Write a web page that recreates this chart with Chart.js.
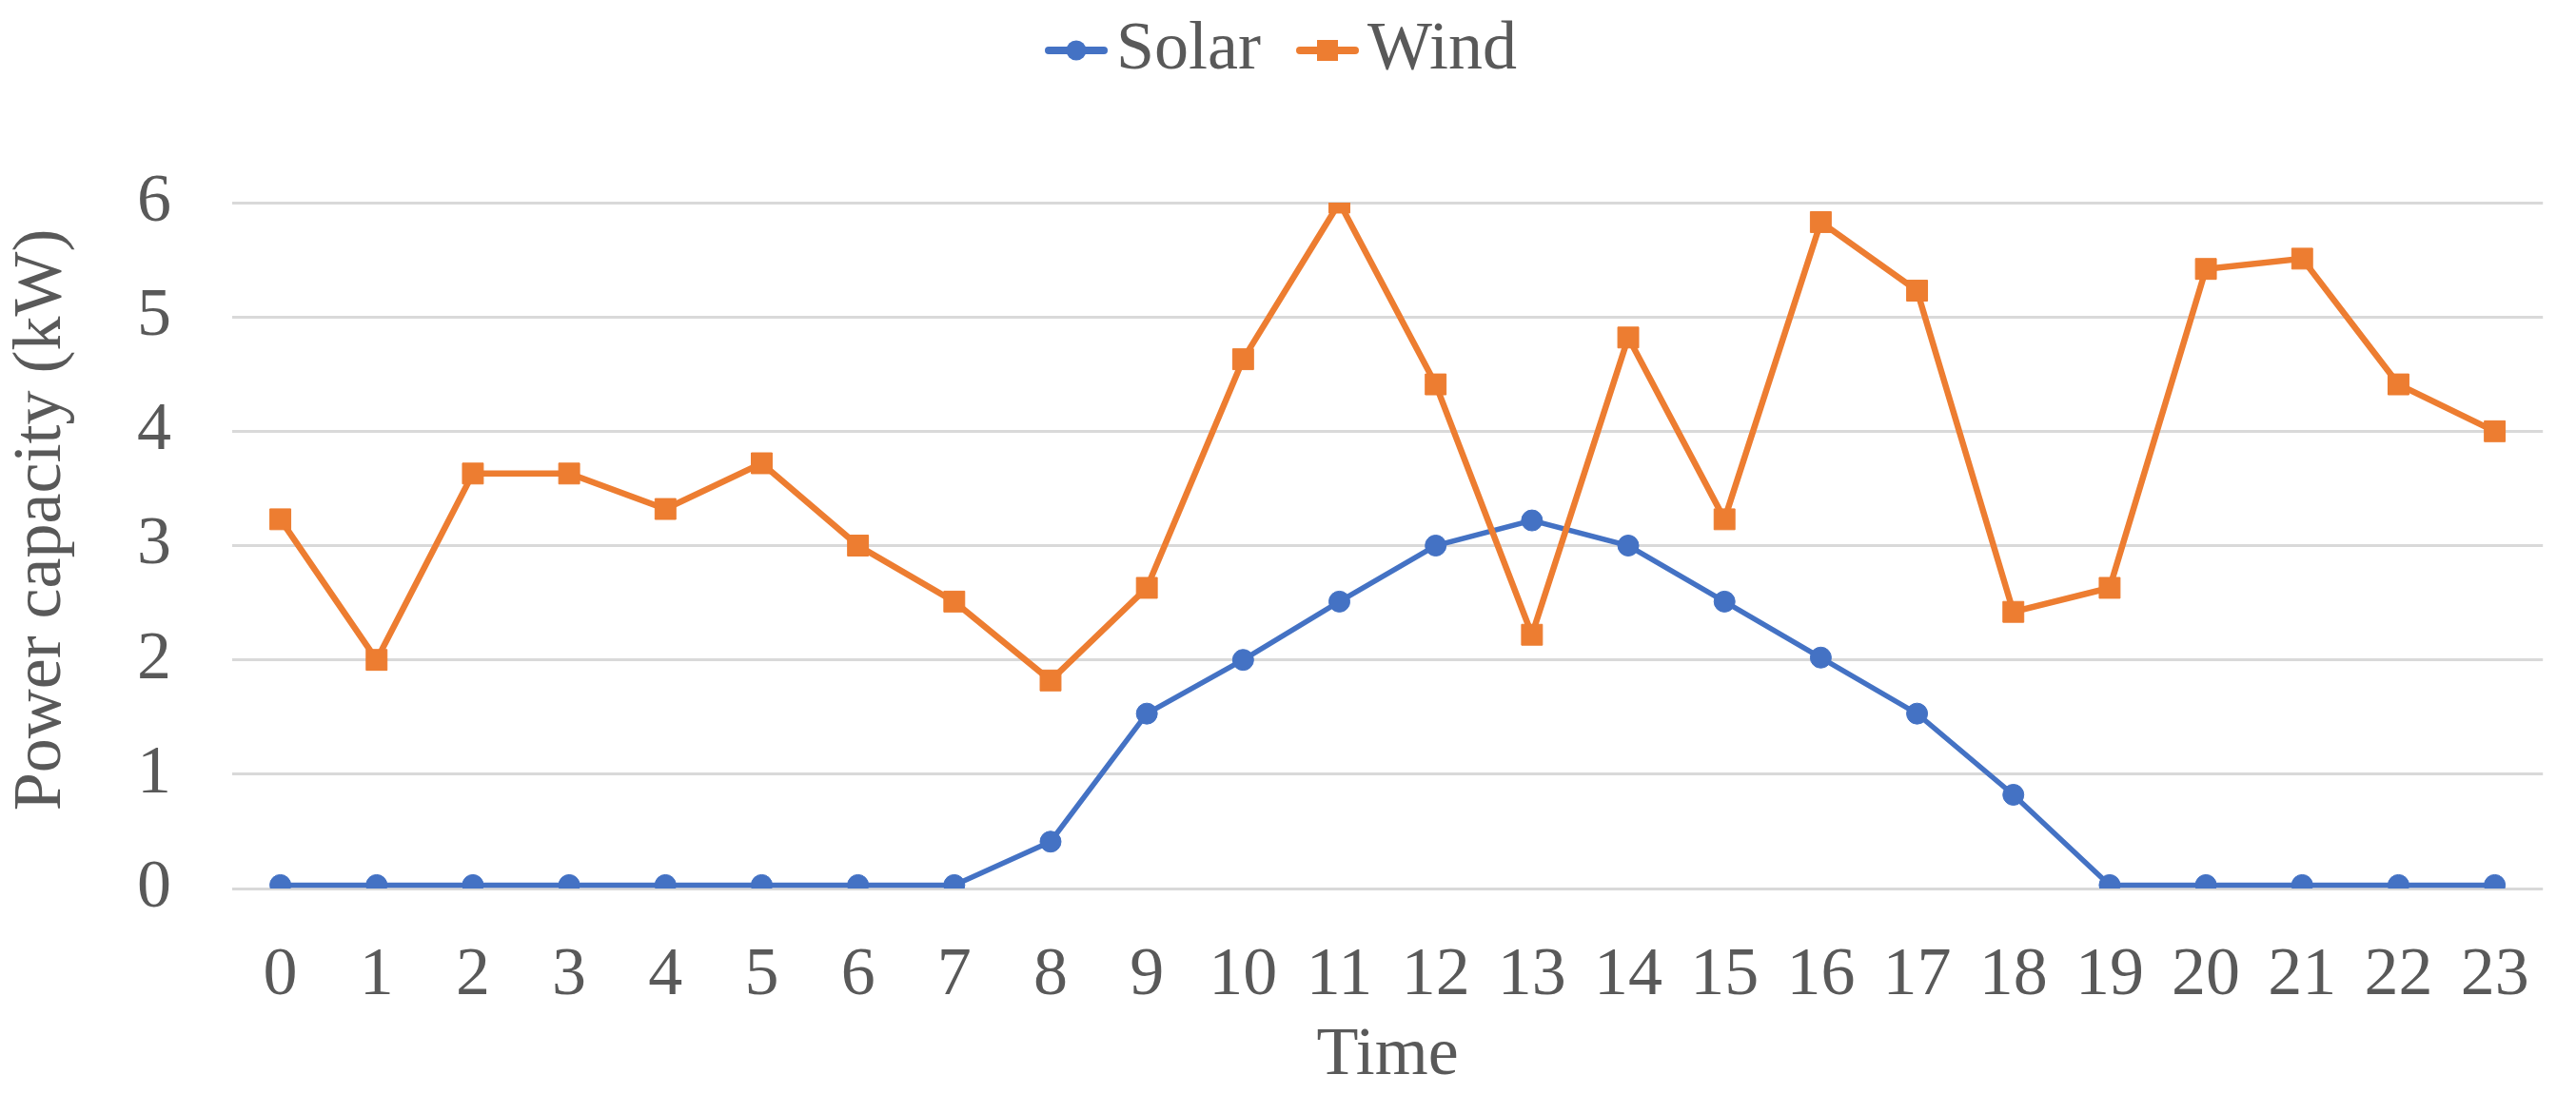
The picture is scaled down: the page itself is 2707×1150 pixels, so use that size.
<!DOCTYPE html>
<html>
<head>
<meta charset="utf-8">
<title>Power capacity</title>
<script src="https://cdn.jsdelivr.net/npm/chart.js@4.4.1/dist/chart.umd.min.js"></script>
<style>
  html, body { margin: 0; padding: 0; background: #ffffff; }
  #wrap { width: 2707px; height: 1150px; position: relative; }
</style>
</head>
<body>
<div id="wrap"><canvas id="chart"></canvas></div>
<script>
// Hours of the day (x axis labels)
const hours = ['0', '1', '2', '3', '4', '5', '6', '7', '8', '9', '10', '11',
               '12', '13', '14', '15', '16', '17', '18', '19', '20', '21', '22', '23'];

// Power capacity in kW
const solarKw = [0.03, 0.03, 0.03, 0.03, 0.03, 0.03, 0.03, 0.03, 0.41, 1.53, 2.0, 2.51,
                 3.0, 3.22, 3.0, 2.51, 2.02, 1.53, 0.82, 0.03, 0.03, 0.03, 0.03, 0.03];
const windKw = [3.23, 2.0, 3.63, 3.63, 3.32, 3.72, 3.0, 2.51, 1.82, 2.63, 4.63, 6.0,
                4.41, 2.22, 4.82, 3.23, 5.83, 5.23, 2.42, 2.63, 5.42, 5.51, 4.41, 4.0];

const seriesNames = ['Solar', 'Wind'];
const yMin = 0;
const yMax = 6;
const yStep = 1;

const solarColor = '#4472C4';
const windColor = '#ED7D31';
const textColor = '#595959';
const fontFamily = '"Liberation Serif", "Times New Roman", serif';

// Excel style legend icon: a short line with the marker in the middle.
// The icon sits a bit to the right of its canvas so the text keeps close to it.
function legendIcon(color, shape) {
  const c = document.createElement('canvas');
  c.width = 120;
  c.height = 30;
  const g = c.getContext('2d');
  g.strokeStyle = color;
  g.fillStyle = color;
  g.lineWidth = 8;
  g.lineCap = 'round';
  g.beginPath();
  g.moveTo(58, 15);
  g.lineTo(116, 15);
  g.stroke();
  if (shape === 'circle') {
    g.beginPath();
    g.arc(87, 15, 10.5, 0, Math.PI * 2);
    g.fill();
  } else {
    g.fillRect(76, 4, 22, 22);
  }
  return c;
}
const legendIcons = [legendIcon(solarColor, 'circle'), legendIcon(windColor, 'rect')];

// Push the plot area down, away from the legend, and nudge the legend left
const legendSpacing = {
  id: 'legendSpacing',
  beforeInit(chart) {
    const originalFit = chart.legend.fit;
    chart.legend.fit = function fit() {
      originalFit.bind(chart.legend)();
      this.height += 114;
    };
  },
  afterLayout(chart) {
    chart.legend.left -= 12;
    chart.legend.right -= 12;
  }
};

const ctx = document.getElementById('chart').getContext('2d');
new Chart(ctx, {
  type: 'line',
  data: {
    labels: hours,
    datasets: [{
      label: seriesNames[0],
      data: solarKw,
      borderColor: solarColor,
      backgroundColor: solarColor,
      borderWidth: 5.5,
      pointStyle: 'circle',
      pointRadius: 11,
      pointBorderWidth: 1,
      pointBackgroundColor: solarColor,
      pointBorderColor: solarColor,
      tension: 0,
      order: 1
    }, {
      label: seriesNames[1],
      data: windKw,
      borderColor: windColor,
      backgroundColor: windColor,
      borderWidth: 6.5,
      pointStyle: 'rect',
      pointRadius: 15.5,
      pointBorderWidth: 1,
      pointBackgroundColor: windColor,
      pointBorderColor: windColor,
      tension: 0,
      order: 0 // wind drawn over solar, like the original
    }]
  },
  options: {
    responsive: true,
    maintainAspectRatio: false,
    devicePixelRatio: 1,
    animation: false,
    layout: {
      padding: { left: 0, right: 18, top: 7, bottom: 0 }
    },
    plugins: {
      tooltip: { enabled: false },
      legend: {
        position: 'top',
        labels: {
          usePointStyle: true,
          pointStyleWidth: 66,
          padding: 10,
          color: textColor,
          font: { family: fontFamily, size: 72 },
          sort: (a, b) => a.datasetIndex - b.datasetIndex,
          generateLabels(chart) {
            const items = Chart.defaults.plugins.legend.labels.generateLabels(chart);
            items.forEach(item => { item.pointStyle = legendIcons[item.datasetIndex]; });
            return items;
          }
        }
      }
    },
    scales: {
      x: {
        offset: true,
        grid: { display: false, drawTicks: false },
        border: { display: false },
        ticks: {
          color: textColor,
          padding: 49,
          maxRotation: 0,
          autoSkip: false,
          font: { family: fontFamily, size: 72 }
        },
        title: {
          display: true,
          text: 'Time',
          color: textColor,
          padding: { top: 4, bottom: -3 },
          font: { family: fontFamily, size: 72 }
        },
        afterFit(scale) { scale.height = 216; }
      },
      y: {
        min: yMin,
        max: yMax,
        grid: { color: '#D9D9D9', lineWidth: 3, drawTicks: false },
        border: { display: false },
        ticks: {
          stepSize: yStep,
          color: textColor,
          padding: 64,
          font: { family: fontFamily, size: 72 }
        },
        title: {
          display: true,
          // leading spaces lift the title a little, as in the original
          text: '   Power capacity (kW)',
          color: textColor,
          padding: { top: 1, bottom: 4 },
          font: { family: fontFamily, size: 72 }
        },
        afterFit(scale) { scale.width = 244; }
      }
    }
  },
  plugins: [legendSpacing]
});
</script>
</body>
</html>
